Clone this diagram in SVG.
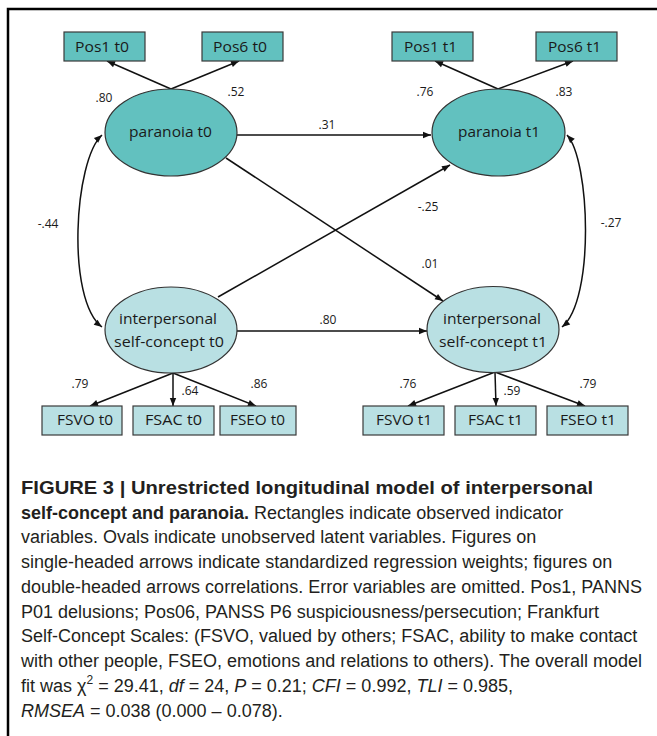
<svg xmlns="http://www.w3.org/2000/svg" width="657" height="736" viewBox="0 0 657 736">
<defs>
<marker id="ah" viewBox="0 0 10 10" refX="10" refY="5" markerWidth="9" markerHeight="8" markerUnits="userSpaceOnUse" orient="auto-start-reverse"><path d="M0,1 L10,5 L0,9z" fill="#111"/></marker>
<style>
.box1{fill:#62c1bf;stroke:#3a3a3a;stroke-width:1.2}
.box2{fill:#b9e0e3;stroke:#3a3a3a;stroke-width:1.2}
.ell1{fill:#62c1bf;stroke:#333;stroke-width:1.2}
.ell2{fill:#b9e0e3;stroke:#333;stroke-width:1.2}
.t{font-family:"Open Sans","Noto Sans",sans-serif;font-size:15px;fill:#1a1a1a;text-anchor:middle}
.n{font-family:"Open Sans","Noto Sans",sans-serif;font-size:12px;fill:#1a1a1a;text-anchor:middle}
.c{stroke:#111;stroke-width:1.5;fill:none;marker-end:url(#ah)}
.d{stroke:#111;stroke-width:1.5;fill:none;marker-end:url(#ah);marker-start:url(#ah)}
.cap{font-family:"Liberation Sans",Arial,sans-serif;font-size:18px;fill:#231f20}
.b{font-weight:bold}
.i{font-style:italic}
</style>
</defs>
<rect width="657" height="736" fill="#fff"/>
<path d="M8,736 V9 H657" fill="none" stroke="#000" stroke-width="2.5"/>

<g id="connectors">
<line class="c" x1="171" y1="89" x2="107" y2="61"/>
<line class="c" x1="171" y1="89" x2="239" y2="61"/>
<line class="c" x1="498" y1="89" x2="435" y2="61"/>
<line class="c" x1="498" y1="89" x2="573" y2="61"/>
<line class="c" x1="237" y1="135" x2="431" y2="135"/>
<line class="c" x1="237" y1="331" x2="427" y2="331"/>
<line class="c" x1="226" y1="158" x2="443" y2="301"/>
<line class="c" x1="218" y1="297" x2="450" y2="165"/>
<path class="d" d="M102,135 C74,160 66,300 102,327"/>
<path class="d" d="M567,135 C590,160 595,300 562,327"/>
<line class="c" x1="173" y1="373" x2="90" y2="406"/>
<line class="c" x1="173" y1="373" x2="173" y2="406"/>
<line class="c" x1="173" y1="373" x2="256" y2="406"/>
<line class="c" x1="495" y1="372" x2="408" y2="406"/>
<line class="c" x1="495" y1="372" x2="496" y2="406"/>
<line class="c" x1="495" y1="372" x2="585" y2="406"/>
<text class="n" x="104" y="102">.80</text>
<text class="n" x="236" y="96">.52</text>
<text class="n" x="425" y="96">.76</text>
<text class="n" x="564" y="96">.83</text>
<text class="n" x="327" y="129">.31</text>
<text class="n" x="48" y="228">-.44</text>
<text class="n" x="428" y="211">-.25</text>
<text class="n" x="430" y="268">.01</text>
<text class="n" x="611" y="227">-.27</text>
<text class="n" x="328" y="324">.80</text>
<text class="n" x="80" y="388">.79</text>
<text class="n" x="190" y="395">.64</text>
<text class="n" x="259" y="388">.86</text>
<text class="n" x="408" y="388">.76</text>
<text class="n" x="512" y="395">.59</text>
<text class="n" x="588" y="388">.79</text>
</g>

<g id="pos1t0"><rect class="box1" x="64" y="32" width="81" height="29"/><text class="t" x="102" y="52" textLength="54" lengthAdjust="spacingAndGlyphs">Pos1 t0</text></g>
<g id="pos6t0"><rect class="box1" x="202" y="32" width="81" height="29"/><text class="t" x="240" y="52" textLength="54" lengthAdjust="spacingAndGlyphs">Pos6 t0</text></g>
<g id="pos1t1"><rect class="box1" x="392" y="32" width="81" height="29"/><text class="t" x="430.5" y="52" textLength="53" lengthAdjust="spacingAndGlyphs">Pos1 t1</text></g>
<g id="pos6t1"><rect class="box1" x="536" y="32" width="81" height="29"/><text class="t" x="574.5" y="52" textLength="53" lengthAdjust="spacingAndGlyphs">Pos6 t1</text></g>

<g id="paranoiat0"><ellipse class="ell1" cx="171" cy="132.5" rx="66" ry="43.5"/><text class="t" x="170.5" y="137" textLength="83" lengthAdjust="spacingAndGlyphs">paranoia t0</text></g>
<g id="paranoiat1"><ellipse class="ell1" cx="498.5" cy="132.5" rx="66.5" ry="43.5"/><text class="t" x="499" y="137" textLength="82" lengthAdjust="spacingAndGlyphs">paranoia t1</text></g>
<g id="selft0"><ellipse class="ell2" cx="171" cy="330" rx="66" ry="43"/><text class="t" x="168" y="324" textLength="98" lengthAdjust="spacingAndGlyphs">interpersonal</text><text class="t" x="169" y="347" textLength="110" lengthAdjust="spacingAndGlyphs">self-concept t0</text></g>
<g id="selft1"><ellipse class="ell2" cx="493" cy="329.5" rx="66" ry="43"/><text class="t" x="492" y="324" textLength="98" lengthAdjust="spacingAndGlyphs">interpersonal</text><text class="t" x="493" y="347" textLength="108" lengthAdjust="spacingAndGlyphs">self-concept t1</text></g>

<g id="fsvot0"><rect class="box2" x="42" y="406" width="80" height="29"/><text class="t" x="85" y="425" textLength="56" lengthAdjust="spacingAndGlyphs">FSVO t0</text></g>
<g id="fsact0"><rect class="box2" x="133" y="406" width="81" height="29"/><text class="t" x="173.5" y="425" textLength="57" lengthAdjust="spacingAndGlyphs">FSAC t0</text></g>
<g id="fseot0"><rect class="box2" x="220" y="406" width="76" height="29"/><text class="t" x="257.5" y="425" textLength="55" lengthAdjust="spacingAndGlyphs">FSEO t0</text></g>
<g id="fsvot1"><rect class="box2" x="363" y="406" width="81" height="29"/><text class="t" x="404" y="425" textLength="56" lengthAdjust="spacingAndGlyphs">FSVO t1</text></g>
<g id="fsact1"><rect class="box2" x="455" y="406" width="81" height="29"/><text class="t" x="495.5" y="425" textLength="55" lengthAdjust="spacingAndGlyphs">FSAC t1</text></g>
<g id="fseot1"><rect class="box2" x="547" y="406" width="81" height="29"/><text class="t" x="588" y="425" textLength="56" lengthAdjust="spacingAndGlyphs">FSEO t1</text></g>

<g id="caption">
<text class="cap b" x="21" y="494" textLength="572" lengthAdjust="spacingAndGlyphs">FIGURE 3 | Unrestricted longitudinal model of interpersonal</text>
<text class="cap" x="21" y="518.7"><tspan class="b">self-concept and paranoia.</tspan> Rectangles indicate observed indicator</text>
<text class="cap" x="21" y="543.4">variables. Ovals indicate unobserved latent variables. Figures on</text>
<text class="cap" x="21" y="568.2">single-headed arrows indicate standardized regression weights; figures on</text>
<text class="cap" x="21" y="592.9">double-headed arrows correlations. Error variables are omitted. Pos1, PANNS</text>
<text class="cap" x="21" y="617.6">P01 delusions; Pos06, PANSS P6 suspiciousness/persecution; Frankfurt</text>
<text class="cap" x="21" y="642.3">Self-Concept Scales: (FSVO, valued by others; FSAC, ability to make contact</text>
<text class="cap" x="21" y="667">with other people, FSEO, emotions and relations to others). The overall model</text>
<text class="cap" x="21" y="691.8">fit was χ<tspan font-size="12" dy="-8">2</tspan><tspan dy="8"> = 29.41, </tspan><tspan class="i">df</tspan> = 24, <tspan class="i">P</tspan> = 0.21; <tspan class="i">CFI</tspan> = 0.992, <tspan class="i">TLI</tspan> = 0.985,</text>
<text class="cap" x="21" y="716.5"><tspan class="i">RMSEA</tspan> = 0.038 (0.000 – 0.078).</text>
</g>
</svg>
